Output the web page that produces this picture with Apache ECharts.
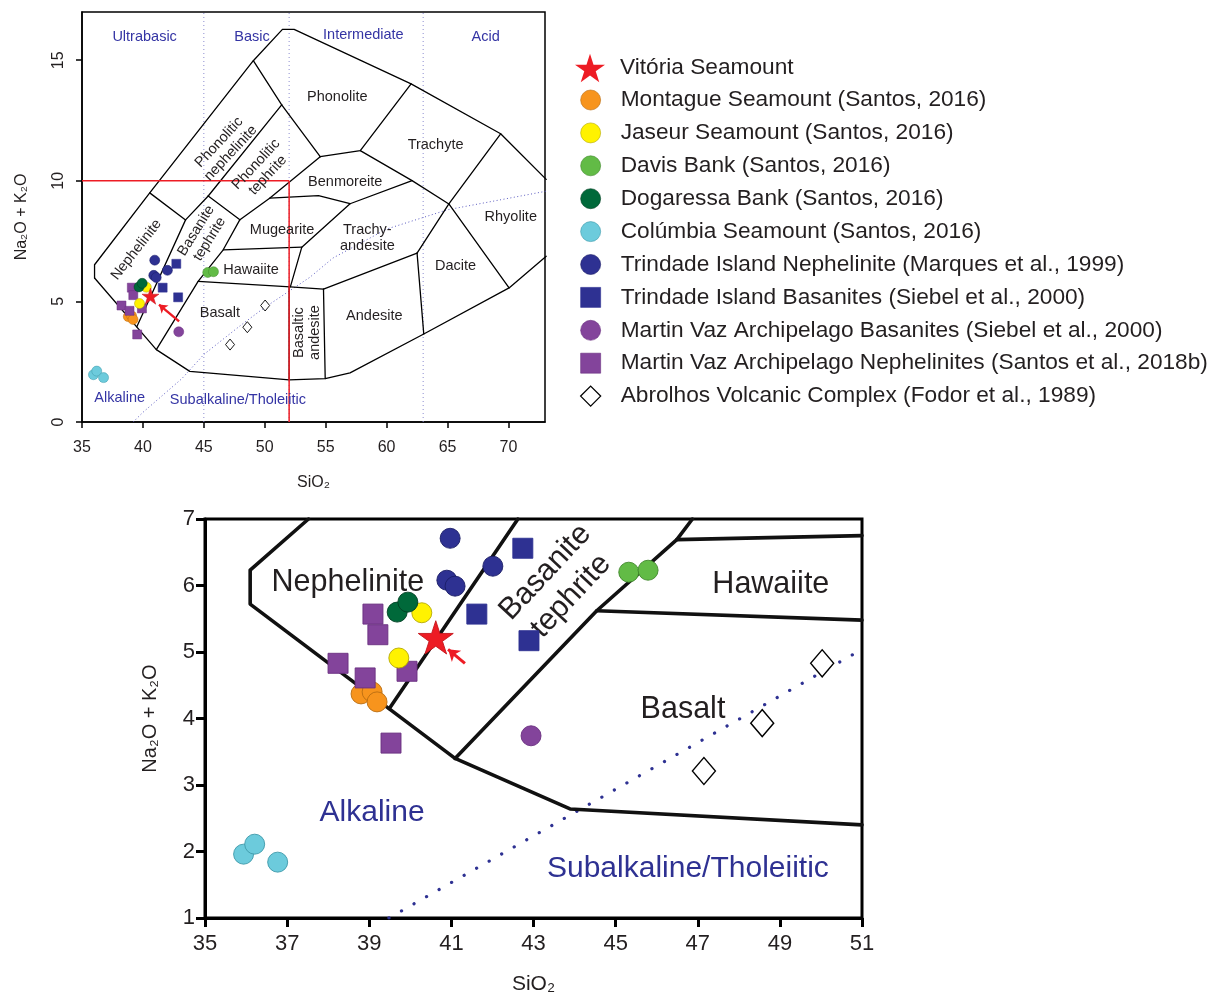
<!DOCTYPE html>
<html>
<head>
<meta charset="utf-8">
<script src="https://cdn.jsdelivr.net/npm/echarts@6/dist/echarts.min.js"></script>
<style>
  html, body { margin: 0; padding: 0; background: #ffffff; }
  #chart { width: 1221px; height: 994px; }
</style>
</head>
<body>
<div id="chart"></div>
<script>
// ---- Sample compositions: [SiO2, Na2O + K2O] (wt%) ----
const vitoria      = [[40.62, 5.22]];
const montague     = [[38.80, 4.37], [39.07, 4.40], [39.19, 4.25]];
const jaseur       = [[40.28, 5.59], [39.72, 4.91]];
const davis        = [[45.32, 6.20], [45.79, 6.23]];
const dogaressa    = [[39.68, 5.60], [39.94, 5.75]];
const columbia     = [[35.94, 1.96], [36.21, 2.11], [36.77, 1.84]];
const trindadeNeph = [[40.97, 6.71], [40.89, 6.08], [41.09, 5.99], [42.01, 6.29]];
const trindadeBas  = [[42.74, 6.56], [41.62, 5.57], [42.89, 5.17]];
const martinVazBas = [[42.94, 3.74]];
const martinVazNeph = [[39.09, 5.57], [39.21, 5.26], [38.24, 4.83], [38.90, 4.61], [39.92, 4.71], [39.53, 3.63]];
const abrolhos     = [[50.03, 4.83], [48.57, 3.93], [47.15, 3.21]];

// ---- Axis ticks ----
const tasXTicks = [35, 40, 45, 50, 55, 60, 65, 70];
const tasYTicks = [0, 5, 10, 15];
const insetXTicks = [35, 37, 39, 41, 43, 45, 47, 49, 51];
const insetYTicks = [1, 2, 3, 4, 5, 6, 7];

// ---- TAS field boundaries (full diagram) ----
const tasOuterUpper = [[36.03, 5.97], [36.03, 6.52], [40.56, 9.50], [49.06, 14.98], [51.45, 16.28], [52.41, 16.28], [62.01, 14.02], [69.36, 11.95], [73.10, 10.06]];
const tasOuterLower = [[36.03, 5.97], [41.10, 3.00], [43.85, 2.10], [52.00, 1.75], [54.96, 1.80], [57.00, 2.04], [63.05, 3.65], [70.05, 5.56], [73.10, 6.87]];
const tasNephTop        = [[40.56, 9.50], [43.50, 8.38]];
const tasNephBasanite   = [[39.50, 3.95], [43.50, 8.38]];
const tasPhonNephBase   = [[43.50, 8.38], [45.36, 9.37]];
const tasPhonNephTeph   = [[45.36, 9.37], [51.39, 13.15]];
const tasPhonNephPhon   = [[49.06, 14.98], [51.39, 13.15]];
const tasPhonTephPhon   = [[51.39, 13.15], [54.55, 11.00]];
const tasBasaniteTop    = [[45.36, 9.37], [47.96, 8.39]];
const tasBasaniteRight  = [[41.10, 3.00], [44.53, 5.83], [46.59, 7.14], [47.96, 8.39]];
const tasPhonTephBase   = [[47.96, 8.39], [50.40, 9.28], [54.55, 11.00]];
const tasMugeariteTop   = [[50.40, 9.28], [54.41, 9.39], [57.00, 9.05], [62.09, 10.01]];
const tasBenmoreiteTop  = [[54.55, 11.00], [57.84, 11.25], [62.01, 14.02]];
const tasBenmTrachyte   = [[57.84, 11.25], [62.09, 10.01], [65.11, 9.04]];
const tasTrachyteRhyol  = [[65.11, 9.04], [69.36, 11.95]];
const tasTrachyAndLeft  = [[57.00, 9.05], [53.04, 7.25], [52.10, 5.60]];
const tasHawaiiteTop    = [[46.59, 7.14], [53.04, 7.25]];
const tasBasaltTop      = [[44.53, 5.83], [52.10, 5.60], [54.82, 5.51]];
const tasBasAndAndesite = [[54.82, 5.51], [54.96, 1.80]];
const tasBasaltBasAnd   = [[52.00, 5.60], [52.00, 1.75]];
const tasAndesiteTop    = [[54.82, 5.51], [62.50, 7.00]];
const tasTrachyAndDac   = [[62.50, 7.00], [65.11, 9.04]];
const tasAndesiteDacite = [[62.50, 7.00], [63.05, 3.65]];
const tasDaciteRhyolite = [[65.11, 9.04], [70.05, 5.56]];
// alkaline / subalkaline divide
const tasAlkalineDivide = [[39.2, 0], [40, 0.4], [43.2, 1.8], [45, 2.8], [48, 4], [50, 4.75], [53.7, 6], [55.6, 6.8], [60, 8], [65, 8.8], [73.1, 9.57]];
// silica classes
const silicaClassBounds = [45, 52, 63];
// enlarged window outline
const zoomWindowH = [[35, 10], [52, 10]];
const zoomWindowV = [[52, 0], [52, 10]];
const tasArrow = [[42.97, 4.17], [41.32, 4.87]];

// ---- Boundaries in the enlarged view ----
const insetOuter        = [[37.52, 7.0], [36.10, 6.23], [36.10, 5.72], [41.09, 3.40], [43.89, 2.64], [51.0, 2.40]];
const insetNephBasanite = [[39.49, 4.15], [42.62, 7.0]];
const insetBasaniteRight = [[41.09, 3.40], [44.54, 5.62], [46.49, 6.69], [46.87, 7.0]];
const insetBasaltTop    = [[44.54, 5.62], [51.0, 5.48]];
const insetHawaiiteTop  = [[46.49, 6.69], [51.0, 6.75]];
const insetAlkalineDivide = [[39.48, 1.0], [51.0, 5.04]];
const insetArrow = [[41.33, 4.83], [40.92, 5.04]];

// ---- Field names ----
const tasFieldNames = [
  ['Phonolite', 55.95, 13.48, 0],
  ['Trachyte', 64.02, 11.49, 0],
  ['Benmoreite', 56.6, 9.96, 0],
  ['Rhyolite', 70.19, 8.51, 0],
  ['Trachy-\nandesite', 58.42, 7.64, 0],
  ['Mugearite', 51.42, 7.97, 0],
  ['Hawaiite', 48.87, 6.31, 0],
  ['Dacite', 65.66, 6.48, 0],
  ['Basalt', 46.32, 4.53, 0],
  ['Andesite', 58.99, 4.41, 0],
  ['Basaltic\nandesite', 53.48, 3.71, 90],
  ['Phonolitic\nnephelinite', 46.73, 11.37, 47],
  ['Phonolitic\ntephrite', 49.77, 10.46, 47],
  ['Basanite\ntephrite', 44.92, 7.76, 58],
  ['Nephelinite', 39.46, 7.14, 52]
];
const tasSeriesNames = [
  ['Ultrabasic', 40.14, 15.96], ['Basic', 48.95, 15.96], ['Intermediate', 58.09, 16.05], ['Acid', 68.13, 15.96],
  ['Alkaline', 38.09, 1.01], ['Subalkaline/Tholeiitic', 47.8, 0.93]
];
const insetFieldNames = [
  ['Nephelinite', 38.48, 6.05, 0],
  ['Basanite\ntephrite', 43.6, 6.02, 47],
  ['Hawaiite', 48.78, 6.01, 0],
  ['Basalt', 46.64, 4.13, 0]
];
const insetSeriesNames = [['Alkaline', 39.07, 2.58], ['Subalkaline/Tholeiitic', 46.76, 1.74]];

// ---- Drawing ----
const FONT = "'Liberation Sans', Arial, sans-serif";
const INK = '#231f20';
const BLUE = '#2e3192';
const STAR = 'path://M100,0 L122.45,69.1 L195.1,69.1 L136.3,111.8 L158.8,180.9 L100,138.2 L41.2,180.9 L63.7,111.8 L4.9,69.1 L77.55,69.1 Z';

const groups = [
  { name: 'Montague Seamount (Santos, 2016)', data: montague, symbol: 'circle', color: '#f7941d', border: '#b96d12' },
  { name: 'Martin Vaz Archipelago Nephelinites (Santos et al., 2018b)', data: martinVazNeph, symbol: 'rect', color: '#83449b', border: '#6a2f80' },
  { name: 'Jaseur Seamount (Santos, 2016)', data: jaseur, symbol: 'circle', color: '#fff200', border: '#b5a900' },
  { name: 'Davis Bank (Santos, 2016)', data: davis, symbol: 'circle', color: '#62bb46', border: '#40882b' },
  { name: 'Dogaressa Bank (Santos, 2016)', data: dogaressa, symbol: 'circle', color: '#00693a', border: '#003f22' },
  { name: 'Colúmbia Seamount (Santos, 2016)', data: columbia, symbol: 'circle', color: '#6ccbdc', border: '#3d98a9' },
  { name: 'Trindade Island Nephelinite (Marques et al., 1999)', data: trindadeNeph, symbol: 'circle', color: '#2e3192', border: '#1b1d66' },
  { name: 'Trindade Island Basanites (Siebel et al., 2000)', data: trindadeBas, symbol: 'rect', color: '#2e3192', border: '#2e3192' },
  { name: 'Martin Vaz Archipelago Basanites (Siebel et al., 2000)', data: martinVazBas, symbol: 'circle', color: '#83449b', border: '#6a2f80' },
  { name: 'Abrolhos Volcanic Complex (Fodor et al., 1989)', data: abrolhos, symbol: 'diamond', color: '#ffffff', border: '#000000' },
  { name: 'Vitória Seamount', data: vitoria, symbol: STAR, color: '#ed1c24', border: '#c4151c' }
];

function sizeFor(symbol, panel) {
  if (symbol === STAR) return panel === 0 ? 17 : 35;
  if (symbol === 'diamond') return panel === 0 ? [9, 11] : [23, 27];
  if (symbol === 'rect') return panel === 0 ? 9 : 20;
  return panel === 0 ? 10 : 20;
}

function polyline(data, panel, width, color, type, z, cap) {
  return {
    type: 'line', xAxisIndex: panel, yAxisIndex: panel, data: data,
    symbol: 'none', showSymbol: false, silent: true, z: z || 2,
    lineStyle: { color: color || '#000', width: width, type: type || 'solid', cap: cap || 'round', join: 'round', opacity: 1 }
  };
}

function textLayer(items, panel, size, color, lineHeight) {
  return {
    type: 'scatter', xAxisIndex: panel, yAxisIndex: panel, silent: true, z: 5,
    symbolSize: 1, itemStyle: { color: 'rgba(0,0,0,0)', opacity: 1 },
    data: items.map(function (t) {
      return { name: t[0], value: [t[1], t[2]], label: { rotate: t[3] || 0 } };
    }),
    label: {
      show: true, position: 'inside', formatter: '{b}', color: color, opacity: 1,
      fontFamily: FONT, fontSize: size, lineHeight: lineHeight, align: 'center', verticalAlign: 'middle'
    }
  };
}

const series = [];

// full TAS diagram
silicaClassBounds.forEach(function (x) {
  series.push(polyline([[x, 0], [x, 17]], 0, 1, '#8c8cd0', [1, 3], 1, 'butt'));
});
series.push(polyline(tasAlkalineDivide, 0, 1, '#5c5cc0', [1, 2.5], 1, 'butt'));
[tasOuterUpper, tasOuterLower, tasNephTop, tasNephBasanite, tasPhonNephBase, tasPhonNephTeph,
 tasPhonNephPhon, tasPhonTephPhon, tasBasaniteTop, tasBasaniteRight, tasPhonTephBase, tasMugeariteTop,
 tasBenmoreiteTop, tasBenmTrachyte, tasTrachyteRhyol, tasTrachyAndLeft, tasHawaiiteTop, tasBasaltTop,
 tasBasAndAndesite, tasBasaltBasAnd, tasAndesiteTop, tasTrachyAndDac, tasAndesiteDacite, tasDaciteRhyolite
].forEach(function (d) { series.push(polyline(d, 0, 1.3, '#000')); });
series.push(polyline(zoomWindowH, 0, 1.5, '#ed1c24', 'solid', 3, 'butt'));
series.push(polyline(zoomWindowV, 0, 1.5, '#ed1c24', 'solid', 3, 'butt'));
series.push(textLayer(tasFieldNames, 0, 14.5, INK, 16));
series.push(textLayer(tasSeriesNames, 0, 14.5, '#3434a4', 16));

// enlarged view
series.push(polyline(insetAlkalineDivide, 1, 3.2, BLUE, [0.1, 14.3], 1, 'round'));
[insetOuter, insetNephBasanite, insetBasaniteRight, insetBasaltTop, insetHawaiiteTop]
  .forEach(function (d) { series.push(polyline(d, 1, 3.6, '#111')); });
series.push(textLayer(insetFieldNames, 1, 30.5, INK, 35));
series.push(textLayer(insetSeriesNames, 1, 30, BLUE, 35));

// samples on both panels
[0, 1].forEach(function (panel) {
  groups.forEach(function (g) {
    series.push({
      type: 'scatter', name: g.name, xAxisIndex: panel, yAxisIndex: panel,
      data: g.data, symbol: g.symbol, symbolSize: sizeFor(g.symbol, panel), symbolKeepAspect: true,
      z: g.symbol === STAR ? 8 : 6,
      itemStyle: {
        color: g.color, borderColor: g.border, opacity: 1,
        borderWidth: g.symbol === 'diamond' ? (panel === 0 ? 0.9 : 1.4) : (panel === 0 ? 0.5 : 0.9)
      }
    });
  });
});

// arrows pointing at the Vitória sample
[[tasArrow, 0, 2.4, 8], [insetArrow, 1, 3, 11]].forEach(function (a) {
  series.push({
    type: 'lines', coordinateSystem: 'cartesian2d', xAxisIndex: a[1], yAxisIndex: a[1],
    symbol: ['none', 'arrow'], symbolSize: a[3], silent: true, z: 9,
    lineStyle: { color: '#ed1c24', width: a[2], opacity: 1, curveness: 0 },
    data: [{ coords: a[0] }]
  });
});

function axisCommon(lineW, tickLen, fontSize, margin, ticks) {
  return {
    type: 'value', splitLine: { show: false },
    axisLine: { show: true, onZero: false, lineStyle: { color: '#000', width: lineW } },
    axisTick: { show: true, inside: false, length: tickLen, lineStyle: { color: '#000', width: lineW }, customValues: ticks },
    axisLabel: { color: INK, fontFamily: FONT, fontSize: fontSize, margin: margin, customValues: ticks, showMaxLabel: true, showMinLabel: true }
  };
}

const tasX = axisCommon(1.5, 6, 16, 18, tasXTicks);
Object.assign(tasX, { gridIndex: 0, min: 35, max: 73, interval: 5, name: 'SiO₂', nameLocation: 'middle', nameGap: 53,
  nameTextStyle: { color: INK, fontFamily: FONT, fontSize: 16 } });
const tasY = axisCommon(1.5, 6, 16, 15, tasYTicks);
Object.assign(tasY, { gridIndex: 0, min: 0, max: 17, interval: 5, name: 'Na₂O + K₂O', nameLocation: 'middle', nameGap: 52,
  nameTextStyle: { color: INK, fontFamily: FONT, fontSize: 16 } });
tasY.axisLabel.rotate = 90;

const insetX = axisCommon(3, 9, 22, 15, insetXTicks);
Object.assign(insetX, { gridIndex: 1, min: 35, max: 51, interval: 2, name: 'SiO₂', nameLocation: 'middle', nameGap: 56,
  nameTextStyle: { color: INK, fontFamily: FONT, fontSize: 21 } });
const insetY = axisCommon(3, 9, 22, 10, insetYTicks);
Object.assign(insetY, { gridIndex: 1, min: 1, max: 7, interval: 1, name: 'Na₂O + K₂O', nameLocation: 'middle', nameGap: 45,
  nameTextStyle: { color: INK, fontFamily: FONT, fontSize: 20 } });

const legendNames = [
  'Montague Seamount (Santos, 2016)',
  'Jaseur Seamount (Santos, 2016)',
  'Davis Bank (Santos, 2016)',
  'Dogaressa Bank (Santos, 2016)',
  'Colúmbia Seamount (Santos, 2016)',
  'Trindade Island Nephelinite (Marques et al., 1999)',
  'Trindade Island Basanites (Siebel et al., 2000)',
  'Martin Vaz Archipelago Basanites (Siebel et al., 2000)',
  'Martin Vaz Archipelago Nephelinites (Santos et al., 2018b)',
  'Abrolhos Volcanic Complex (Fodor et al., 1989)'
];

const option = {
  animation: false,
  backgroundColor: '#ffffff',
  grid: [
    { left: 82, top: 12, width: 463, height: 410, show: true, borderColor: '#000', borderWidth: 1.5,
      backgroundColor: 'transparent', outerBoundsMode: 'none', containLabel: false },
    { left: 205, top: 519, width: 657, height: 399, show: true, borderColor: '#000', borderWidth: 3,
      backgroundColor: 'transparent', outerBoundsMode: 'none', containLabel: false }
  ],
  xAxis: [tasX, insetX],
  yAxis: [tasY, insetY],
  legend: [
    {
      data: ['Vitória Seamount'], orient: 'vertical', left: 570, top: 48, selectedMode: false,
      itemWidth: 30, itemHeight: 30,
      itemStyle: { borderWidth: 0 },
      textStyle: { color: INK, fontFamily: FONT, fontSize: 22.7, lineHeight: 30, padding: [0, 0, 0, 10] }
    },
    {
      data: legendNames.map(function (n) {
        return n.indexOf('Abrolhos') === 0
          ? { name: n, itemStyle: { color: '#fff', borderColor: '#000', borderWidth: 1.3 } }
          : { name: n };
      }),
      orient: 'vertical', left: 575, top: 83.5, selectedMode: false,
      itemWidth: 20, itemHeight: 20, itemGap: 9.9,
      itemStyle: { borderWidth: 0.6 },
      textStyle: { color: INK, fontFamily: FONT, fontSize: 22.7, lineHeight: 20, padding: [0, 0, 0, 15] }
    }
  ],
  series: series
};

const chart = echarts.init(document.getElementById('chart'), null, { renderer: 'canvas' });
chart.setOption(option);
</script>
</body>
</html>
